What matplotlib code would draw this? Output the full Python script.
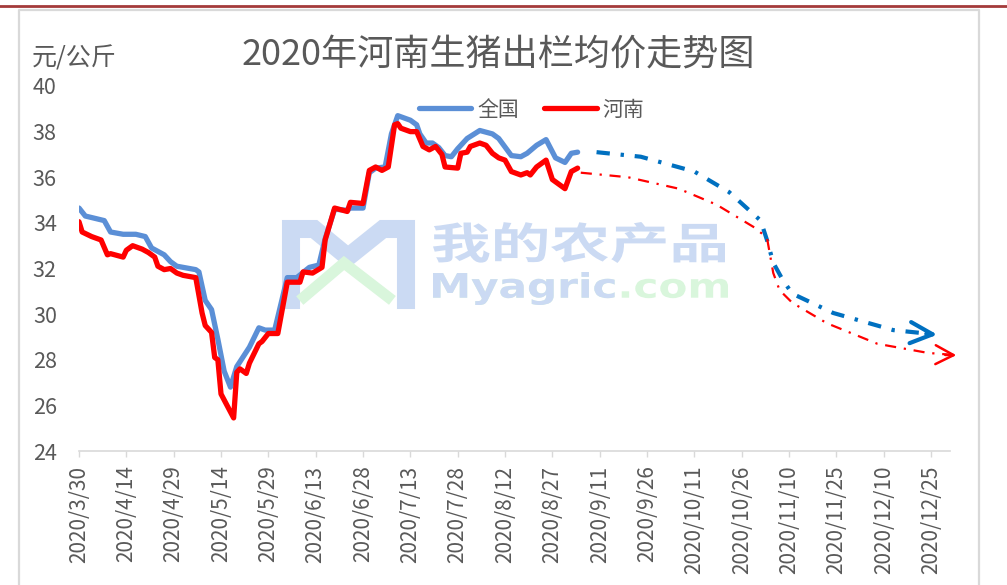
import pandas as pd
import matplotlib
matplotlib.use("Agg")
import matplotlib.pyplot as plt
from matplotlib.lines import Line2D
from matplotlib.patches import PathPatch
from matplotlib.textpath import TextPath
from matplotlib.font_manager import FontProperties
from matplotlib.transforms import Affine2D, IdentityTransform

plt.rcParams['font.family'] = ['Noto Sans CJK SC', 'DejaVu Sans']

# 全国 daily average (yuan/kg)
nat_dates = ["2020-03-30", "2020-04-01", "2020-04-07", "2020-04-09", "2020-04-13", "2020-04-17",
             "2020-04-20", "2020-04-22", "2020-04-26", "2020-04-28", "2020-04-30", "2020-05-06",
             "2020-05-07", "2020-05-09", "2020-05-11", "2020-05-13", "2020-05-15", "2020-05-17",
             "2020-05-19", "2020-05-23", "2020-05-26", "2020-05-28", "2020-05-31", "2020-06-04",
             "2020-06-07", "2020-06-11", "2020-06-14", "2020-06-16", "2020-06-19", "2020-06-23",
             "2020-06-24", "2020-06-28", "2020-06-30", "2020-07-02", "2020-07-05", "2020-07-07",
             "2020-07-09", "2020-07-11", "2020-07-13", "2020-07-15", "2020-07-16", "2020-07-18",
             "2020-07-20", "2020-07-22", "2020-07-24", "2020-07-26", "2020-07-28", "2020-07-31",
             "2020-08-04", "2020-08-08", "2020-08-10", "2020-08-14", "2020-08-17", "2020-08-19",
             "2020-08-22", "2020-08-25", "2020-08-28", "2020-08-31", "2020-09-02", "2020-09-04"]
nat_vals = [34.65, 34.3, 34.1, 33.6, 33.5, 33.5,
            33.4, 32.9, 32.6, 32.3, 32.1, 31.95,
            31.85, 30.6, 30.2, 28.9, 27.5, 26.8,
            27.7, 28.55, 29.4, 29.3, 29.3, 31.6,
            31.6, 32.05, 32.15, 33.3, 34.6, 34.55,
            34.65, 34.65, 36.2, 36.4, 36.45, 37.9,
            38.7, 38.6, 38.5, 38.3, 37.9, 37.5,
            37.5, 37.3, 36.95, 36.9, 37.25, 37.7,
            38.05, 37.9, 37.7, 36.95, 36.9, 37.05,
            37.4, 37.65, 36.85, 36.65, 37.05, 37.1]

# 河南 daily average (yuan/kg)
hn_dates = ["2020-03-30", "2020-03-31", "2020-04-03", "2020-04-06", "2020-04-08", "2020-04-09",
            "2020-04-13", "2020-04-14", "2020-04-16", "2020-04-19", "2020-04-21", "2020-04-23",
            "2020-04-24", "2020-04-26", "2020-04-28", "2020-04-30", "2020-05-02", "2020-05-06",
            "2020-05-08", "2020-05-09", "2020-05-11", "2020-05-12", "2020-05-13", "2020-05-14",
            "2020-05-18", "2020-05-19", "2020-05-20", "2020-05-22", "2020-05-23", "2020-05-26",
            "2020-05-27", "2020-05-29", "2020-06-01", "2020-06-04", "2020-06-08", "2020-06-09",
            "2020-06-12", "2020-06-15", "2020-06-16", "2020-06-19", "2020-06-23", "2020-06-24",
            "2020-06-28", "2020-06-30", "2020-07-02", "2020-07-04", "2020-07-06", "2020-07-08",
            "2020-07-09", "2020-07-10", "2020-07-13", "2020-07-15", "2020-07-17", "2020-07-19",
            "2020-07-21", "2020-07-23", "2020-07-24", "2020-07-28", "2020-07-29", "2020-07-31",
            "2020-08-01", "2020-08-04", "2020-08-06", "2020-08-08", "2020-08-10", "2020-08-12",
            "2020-08-14", "2020-08-17", "2020-08-19", "2020-08-20", "2020-08-22", "2020-08-25",
            "2020-08-27", "2020-08-31", "2020-09-02", "2020-09-04"]
hn_vals = [34.05, 33.6, 33.4, 33.25, 32.6, 32.65,
           32.5, 32.8, 33.0, 32.85, 32.7, 32.5,
           32.1, 31.95, 32.0, 31.8, 31.7, 31.6,
           30.05, 29.5, 29.2, 28.1, 28.0, 26.5,
           25.45, 27.45, 27.6, 27.4, 27.85, 28.7,
           28.8, 29.15, 29.15, 31.4, 31.4, 31.85,
           31.8, 32.05, 33.25, 34.65, 34.5, 34.9,
           34.85, 36.3, 36.45, 36.3, 36.45, 38.3,
           38.35, 38.15, 38.0, 38.0, 37.35, 37.2,
           37.35, 37.0, 36.45, 36.4, 37.05, 37.1,
           37.35, 37.5, 37.4, 37.05, 36.85, 36.75,
           36.25, 36.1, 36.2, 36.1, 36.45, 36.75,
           35.9, 35.5, 36.25, 36.4]

# hand-drawn trend arrows
nat_fc_dates = ["2020-09-10", "2020-09-24", "2020-10-11", "2020-10-22", "2020-11-01", "2020-11-03",
                "2020-11-05", "2020-11-08", "2020-11-11", "2020-11-24", "2020-12-13", "2020-12-27"]
nat_fc_vals = [37.1, 36.9, 36.25, 35.35, 34.1, 33.25,
               32.25, 31.5, 30.9, 30.05, 29.3, 29.1]
hn_fc_dates = ["2020-09-05", "2020-09-20", "2020-10-06", "2020-10-18", "2020-10-30", "2020-11-03",
               "2020-11-05", "2020-11-07", "2020-11-11", "2020-11-22", "2020-12-08", "2020-12-24",
               "2021-01-02"]
hn_fc_vals = [36.2, 36.0, 35.5, 34.8, 33.8, 33.35,
              31.8, 31.05, 30.5, 29.6, 28.7, 28.3,
              28.2]

tick_dates = pd.date_range("2020-03-30", periods=19, freq="15D")
y_ticks = list(range(24, 41, 2))

W, H = 1007, 585
fig = plt.figure(figsize=(W / 100, H / 100), dpi=100)
ax = fig.add_axes([79 / W, 1 - 451 / H, (950 - 79) / W, (451 - 86) / H])
ax.patch.set_visible(False)

ax.plot(pd.to_datetime(nat_dates), nat_vals, color='#5b8fd6', lw=3.8,
        solid_joinstyle='round', solid_capstyle='round', label='全国', zorder=3)
ax.plot(pd.to_datetime(hn_dates), hn_vals, color='#ff0000', lw=3.8,
        solid_joinstyle='round', solid_capstyle='round', label='河南', zorder=4)

fx = pd.to_datetime(nat_fc_dates)
ax.plot(fx, nat_fc_vals, color='#0070c0', lw=3.0, linestyle=(0, (3.2, 2.6, 0.8, 2.6)), zorder=3)
ax.annotate('', xy=(fx[-1], nat_fc_vals[-1]), xytext=(-8, 0.6), textcoords='offset points',
            arrowprops=dict(arrowstyle='->,head_length=0.8,head_width=0.38', color='#0070c0',
                            lw=3.0, mutation_scale=20, shrinkA=0, shrinkB=0),
            annotation_clip=False)
hx = pd.to_datetime(hn_fc_dates)
ax.plot(hx, hn_fc_vals, color='#ff0000', lw=1.6, linestyle=(0, (5, 3.5, 1, 3.5)),
        zorder=3, clip_on=False)
ax.annotate('', xy=(hx[-1], hn_fc_vals[-1]), xytext=(-8, 0.2), textcoords='offset points',
            arrowprops=dict(arrowstyle='->,head_length=0.65,head_width=0.34', color='#ff0000',
                            lw=1.8, mutation_scale=20, shrinkA=0, shrinkB=0),
            annotation_clip=False)

ax.set_xlim(pd.Timestamp("2020-03-30"), pd.Timestamp("2020-12-31"))
ax.set_ylim(24, 40)
ax.set_xticks(tick_dates)
ax.set_xticklabels([f"{d.year}/{d.month}/{d.day}" for d in tick_dates], rotation=90,
                   fontsize=15, color='#595959')
ax.set_yticks(y_ticks)
ax.set_yticklabels([str(v) for v in y_ticks], fontsize=15.5, color='#595959')
ax.tick_params(axis='y', length=0, pad=16)
ax.tick_params(axis='x', length=4.5, width=1, color='#d9d9d9', pad=6)
for s in ['left', 'right', 'top']:
    ax.spines[s].set_visible(False)
ax.spines['bottom'].set_color('#d9d9d9')
ax.spines['bottom'].set_linewidth(1.2)

ax.legend(loc='center', bbox_to_anchor=(0.52, 0.935), ncol=2, frameon=False,
          fontsize=15, handlelength=2.5, handletextpad=0.3, columnspacing=1.2,
          labelcolor='#595959')

fig.text(498 / W, 1 - 55 / H, '2020年河南生猪出栏均价走势图', ha='center', va='center',
         fontsize=26, color='#595959', fontweight='light')
fig.text(32 / W, 1 - 58 / H, '元/公斤', ha='left', va='center', fontsize=18, color='#595959')

# frame
fig.add_artist(Line2D([0, 1], [1 - 6 / H] * 2, transform=fig.transFigure,
                      color='#a33a3a', lw=2))
fig.add_artist(Line2D([19 / W, 19 / W, 979 / W, 979 / W], [0, 1 - 10 / H, 1 - 10 / H, 0],
                      transform=fig.transFigure, color='#d9d9d9', lw=1.6))


# watermark
def stamp(s, box, color, weight='bold', family='Noto Sans CJK SC', ref=None):
    prop = FontProperties(family=family, weight=weight)
    full = TextPath((0, 0), ref or s, size=100, prop=prop)
    bb = full.get_extents()
    x0, y0, x1, y1 = box
    tr = (Affine2D().translate(-bb.x0, -bb.y0)
          .scale((x1 - x0) / bb.width, (y1 - y0) / bb.height)
          .translate(x0, H - y1))
    tp = TextPath((0, 0), s, size=100, prop=prop)
    fig.add_artist(PathPatch(tr.transform_path(tp), transform=IdentityTransform(),
                             fc=color, ec='none', zorder=-1))


stamp('我的农产品', (433, 222, 725, 263), '#cbdaf3')
stamp('Myagric.com', (433, 272, 728, 305), '#d9f6dc', family='DejaVu Sans')
stamp('Myagric', (433, 272, 728, 305), '#cbdaf3', family='DejaVu Sans', ref='Myagric.com')


def px(xs, ys):
    return [x / W for x in xs], [1 - y / H for y in ys]


lx, ly = px([291, 291, 314, 348, 383, 406, 406], [300, 229, 229, 257, 229, 229, 300])
fig.add_artist(Line2D(lx, ly, transform=fig.transFigure, color='#cbdaf3', lw=13,
                      solid_joinstyle='miter', zorder=-1))
gx, gy = px([304, 344, 388], [297, 263, 297])
fig.add_artist(Line2D(gx, gy, transform=fig.transFigure, color='#d9f6dc', lw=8,
                      solid_joinstyle='miter', zorder=-1))

fig.savefig('out.png', dpi=100)
